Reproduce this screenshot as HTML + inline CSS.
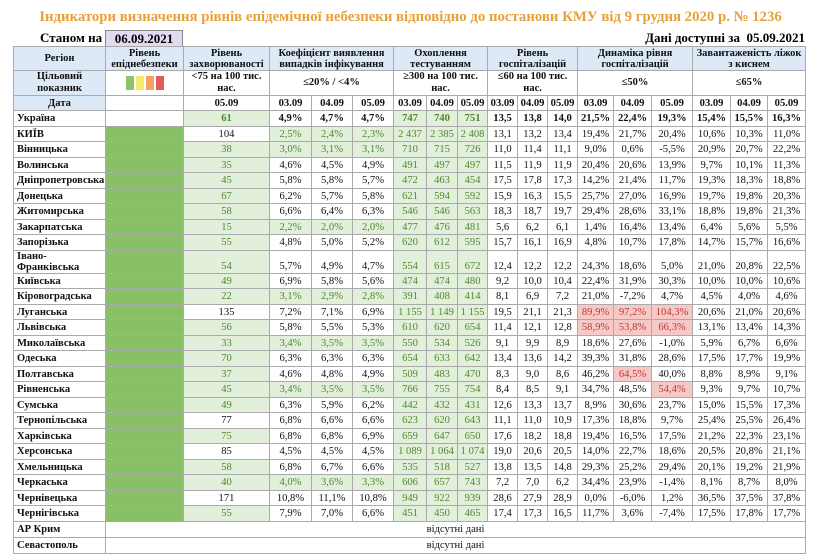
<!DOCTYPE html>
<html><head><meta charset="utf-8">
<style>
body{margin:0;width:821px;height:560px;background:#fff;position:relative;overflow:hidden;font-family:"Liberation Serif",serif;}
.title{position:absolute;left:0;width:821px;top:9px;text-align:center;color:#e8a13a;font-weight:bold;font-size:14.8px;}
.st{position:absolute;left:40px;top:30px;height:16px;font-weight:bold;font-size:13px;line-height:16px;}
.dt{position:absolute;left:105px;top:30px;width:78px;height:16px;background:#e2daf0;border:1px solid #888;border-bottom:none;box-sizing:border-box;text-align:center;font-weight:bold;font-size:13px;line-height:15px;}
.av{position:absolute;right:16px;top:30px;font-weight:bold;font-size:13px;line-height:16px;}
table{position:absolute;left:13px;top:46px;border-collapse:collapse;table-layout:fixed;width:792px;border:1px solid #555;}
td{border:1px solid #aaa;padding:0 1px;font-size:10.6px;text-align:center;white-space:nowrap;overflow:hidden;line-height:13px;color:#111;}
td.n{text-align:left;font-weight:bold;padding-left:3px;font-size:10.5px;}
.h td{background:#dde9f6;font-weight:bold;font-size:10.5px;line-height:11px;}
.t td{font-weight:bold;font-size:10.5px;line-height:12px;}
.t td.b{background:#dde9f6;}
tr.d td{font-weight:bold;}
tr{height:15px;}
tr.x{height:16px;}
.g{background:#e2efda;color:#4f8a30;}
.r{background:#f6c9c9;color:#c0392b;}
.L{background:#88bf67;}
.u td{font-weight:bold;}
.sq{display:inline-block;width:8px;height:14px;margin:0 1px;vertical-align:middle;}
</style></head><body>
<div class="title">Індикатори визначення рівнів епідемічної небезпеки відповідно до постанови КМУ від 9 грудня 2020 р. № 1236</div>
<div class="st">Станом на</div>
<div class="dt">06.09.2021</div>
<div class="av">Дані доступні за &nbsp;05.09.2021</div>
<table>
<colgroup>
<col style="width:92px"><col style="width:78px"><col style="width:86px">
<col style="width:42px"><col style="width:41px"><col style="width:41px">
<col style="width:33px"><col style="width:31px"><col style="width:30px">
<col style="width:30px"><col style="width:30px"><col style="width:30px">
<col style="width:36px"><col style="width:38px"><col style="width:41px">
<col style="width:38px"><col style="width:37px"><col style="width:38px">
</colgroup>
<tr class="h" style="height:24px"><td>Регіон</td><td>Рівень<br>епіднебезпеки</td><td>Рівень<br>захворюваності</td><td colspan="3">Коефіцієнт виявлення<br>випадків інфікування</td><td colspan="3">Охоплення<br>тестуванням</td><td colspan="3">Рівень<br>госпіталізацій</td><td colspan="3">Динаміка рівня<br>госпіталізацій</td><td colspan="3">Завантаженість ліжок<br>з киснем</td></tr>
<tr class="t" style="height:25px"><td class="b">Цільовий<br>показник</td><td><span class="sq" style="background:#8cc46c"></span><span class="sq" style="background:#f5ea6a"></span><span class="sq" style="background:#f2a45a"></span><span class="sq" style="background:#e05b5b"></span></td><td>&lt;75 на 100 тис.<br>нас.</td><td colspan="3">≤20% / &lt;4%</td><td colspan="3">≥300 на 100 тис.<br>нас.</td><td colspan="3">≤60 на 100 тис.<br>нас.</td><td colspan="3">≤50%</td><td colspan="3">≤65%</td></tr>
<tr class="d"><td style="background:#dde9f6">Дата</td><td></td><td>05.09</td><td>03.09</td><td>04.09</td><td>05.09</td><td>03.09</td><td>04.09</td><td>05.09</td><td>03.09</td><td>04.09</td><td>05.09</td><td>03.09</td><td>04.09</td><td>05.09</td><td>03.09</td><td>04.09</td><td>05.09</td></tr>
<tr class="u x"><td class="n">Україна</td><td></td><td class="g">61</td><td>4,9%</td><td>4,7%</td><td>4,7%</td><td class="g">747</td><td class="g">740</td><td class="g">751</td><td>13,5</td><td>13,8</td><td>14,0</td><td>21,5%</td><td>22,4%</td><td>19,3%</td><td>15,4%</td><td>15,5%</td><td>16,3%</td></tr>
<tr><td class="n">КИЇВ</td><td class="L"></td><td>104</td><td class="g">2,5%</td><td class="g">2,4%</td><td class="g">2,3%</td><td class="g">2 437</td><td class="g">2 385</td><td class="g">2 408</td><td>13,1</td><td>13,2</td><td>13,4</td><td>19,4%</td><td>21,7%</td><td>20,4%</td><td>10,6%</td><td>10,3%</td><td>11,0%</td></tr>
<tr class="x"><td class="n">Вінницька</td><td class="L"></td><td class="g">38</td><td class="g">3,0%</td><td class="g">3,1%</td><td class="g">3,1%</td><td class="g">710</td><td class="g">715</td><td class="g">726</td><td>11,0</td><td>11,4</td><td>11,1</td><td>9,0%</td><td>0,6%</td><td>-5,5%</td><td>20,9%</td><td>20,7%</td><td>22,2%</td></tr>
<tr><td class="n">Волинська</td><td class="L"></td><td class="g">35</td><td>4,6%</td><td>4,5%</td><td>4,9%</td><td class="g">491</td><td class="g">497</td><td class="g">497</td><td>11,5</td><td>11,9</td><td>11,9</td><td>20,4%</td><td>20,6%</td><td>13,9%</td><td>9,7%</td><td>10,1%</td><td>11,3%</td></tr>
<tr class="x"><td class="n">Дніпропетровська</td><td class="L"></td><td class="g">45</td><td>5,8%</td><td>5,8%</td><td>5,7%</td><td class="g">472</td><td class="g">463</td><td class="g">454</td><td>17,5</td><td>17,8</td><td>17,3</td><td>14,2%</td><td>21,4%</td><td>11,7%</td><td>19,3%</td><td>18,3%</td><td>18,8%</td></tr>
<tr><td class="n">Донецька</td><td class="L"></td><td class="g">67</td><td>6,2%</td><td>5,7%</td><td>5,8%</td><td class="g">621</td><td class="g">594</td><td class="g">592</td><td>15,9</td><td>16,3</td><td>15,5</td><td>25,7%</td><td>27,0%</td><td>16,9%</td><td>19,7%</td><td>19,8%</td><td>20,3%</td></tr>
<tr class="x"><td class="n">Житомирська</td><td class="L"></td><td class="g">58</td><td>6,6%</td><td>6,4%</td><td>6,3%</td><td class="g">546</td><td class="g">546</td><td class="g">563</td><td>18,3</td><td>18,7</td><td>19,7</td><td>29,4%</td><td>28,6%</td><td>33,1%</td><td>18,8%</td><td>19,8%</td><td>21,3%</td></tr>
<tr><td class="n">Закарпатська</td><td class="L"></td><td class="g">15</td><td class="g">2,2%</td><td class="g">2,0%</td><td class="g">2,0%</td><td class="g">477</td><td class="g">476</td><td class="g">481</td><td>5,6</td><td>6,2</td><td>6,1</td><td>1,4%</td><td>16,4%</td><td>13,4%</td><td>6,4%</td><td>5,6%</td><td>5,5%</td></tr>
<tr class="x"><td class="n">Запорізька</td><td class="L"></td><td class="g">55</td><td>4,8%</td><td>5,0%</td><td>5,2%</td><td class="g">620</td><td class="g">612</td><td class="g">595</td><td>15,7</td><td>16,1</td><td>16,9</td><td>4,8%</td><td>10,7%</td><td>17,8%</td><td>14,7%</td><td>15,7%</td><td>16,6%</td></tr>
<tr style="height:23px"><td class="n" style="line-height:11px;vertical-align:top">Івано-<br>Франківська</td><td class="L"></td><td class="g" style="vertical-align:bottom">54</td><td style="vertical-align:bottom">5,7%</td><td style="vertical-align:bottom">4,9%</td><td style="vertical-align:bottom">4,7%</td><td class="g" style="vertical-align:bottom">554</td><td class="g" style="vertical-align:bottom">615</td><td class="g" style="vertical-align:bottom">672</td><td style="vertical-align:bottom">12,4</td><td style="vertical-align:bottom">12,2</td><td style="vertical-align:bottom">12,2</td><td style="vertical-align:bottom">24,3%</td><td style="vertical-align:bottom">18,6%</td><td style="vertical-align:bottom">5,0%</td><td style="vertical-align:bottom">21,0%</td><td style="vertical-align:bottom">20,8%</td><td style="vertical-align:bottom">22,5%</td></tr>
<tr><td class="n">Київська</td><td class="L"></td><td class="g">49</td><td>6,9%</td><td>5,8%</td><td>5,6%</td><td class="g">474</td><td class="g">474</td><td class="g">480</td><td>9,2</td><td>10,0</td><td>10,4</td><td>22,4%</td><td>31,9%</td><td>30,3%</td><td>10,0%</td><td>10,0%</td><td>10,6%</td></tr>
<tr class="x"><td class="n">Кіровоградська</td><td class="L"></td><td class="g">22</td><td class="g">3,1%</td><td class="g">2,9%</td><td class="g">2,8%</td><td class="g">391</td><td class="g">408</td><td class="g">414</td><td>8,1</td><td>6,9</td><td>7,2</td><td>21,0%</td><td>-7,2%</td><td>4,7%</td><td>4,5%</td><td>4,0%</td><td>4,6%</td></tr>
<tr><td class="n">Луганська</td><td class="L"></td><td>135</td><td>7,2%</td><td>7,1%</td><td>6,9%</td><td class="g">1 155</td><td class="g">1 149</td><td class="g">1 155</td><td>19,5</td><td>21,1</td><td>21,3</td><td class="r">89,9%</td><td class="r">97,2%</td><td class="r">104,3%</td><td>20,6%</td><td>21,0%</td><td>20,6%</td></tr>
<tr class="x"><td class="n">Львівська</td><td class="L"></td><td class="g">56</td><td>5,8%</td><td>5,5%</td><td>5,3%</td><td class="g">610</td><td class="g">620</td><td class="g">654</td><td>11,4</td><td>12,1</td><td>12,8</td><td class="r">58,9%</td><td class="r">53,8%</td><td class="r">66,3%</td><td>13,1%</td><td>13,4%</td><td>14,3%</td></tr>
<tr><td class="n">Миколаївська</td><td class="L"></td><td class="g">33</td><td class="g">3,4%</td><td class="g">3,5%</td><td class="g">3,5%</td><td class="g">550</td><td class="g">534</td><td class="g">526</td><td>9,1</td><td>9,9</td><td>8,9</td><td>18,6%</td><td>27,6%</td><td>-1,0%</td><td>5,9%</td><td>6,7%</td><td>6,6%</td></tr>
<tr class="x"><td class="n">Одеська</td><td class="L"></td><td class="g">70</td><td>6,3%</td><td>6,3%</td><td>6,3%</td><td class="g">654</td><td class="g">633</td><td class="g">642</td><td>13,4</td><td>13,6</td><td>14,2</td><td>39,3%</td><td>31,8%</td><td>28,6%</td><td>17,5%</td><td>17,7%</td><td>19,9%</td></tr>
<tr><td class="n">Полтавська</td><td class="L"></td><td class="g">37</td><td>4,6%</td><td>4,8%</td><td>4,9%</td><td class="g">509</td><td class="g">483</td><td class="g">470</td><td>8,3</td><td>9,0</td><td>8,6</td><td>46,2%</td><td class="r">64,5%</td><td>40,0%</td><td>8,8%</td><td>8,9%</td><td>9,1%</td></tr>
<tr class="x"><td class="n">Рівненська</td><td class="L"></td><td class="g">45</td><td class="g">3,4%</td><td class="g">3,5%</td><td class="g">3,5%</td><td class="g">766</td><td class="g">755</td><td class="g">754</td><td>8,4</td><td>8,5</td><td>9,1</td><td>34,7%</td><td>48,5%</td><td class="r">54,4%</td><td>9,3%</td><td>9,7%</td><td>10,7%</td></tr>
<tr><td class="n">Сумська</td><td class="L"></td><td class="g">49</td><td>6,3%</td><td>5,9%</td><td>6,2%</td><td class="g">442</td><td class="g">432</td><td class="g">431</td><td>12,6</td><td>13,3</td><td>13,7</td><td>8,9%</td><td>30,6%</td><td>23,7%</td><td>15,0%</td><td>15,5%</td><td>17,3%</td></tr>
<tr class="x"><td class="n">Тернопільська</td><td class="L"></td><td>77</td><td>6,8%</td><td>6,6%</td><td>6,6%</td><td class="g">623</td><td class="g">620</td><td class="g">643</td><td>11,1</td><td>11,0</td><td>10,9</td><td>17,3%</td><td>18,8%</td><td>9,7%</td><td>25,4%</td><td>25,5%</td><td>26,4%</td></tr>
<tr><td class="n">Харківська</td><td class="L"></td><td class="g">75</td><td>6,8%</td><td>6,8%</td><td>6,9%</td><td class="g">659</td><td class="g">647</td><td class="g">650</td><td>17,6</td><td>18,2</td><td>18,8</td><td>19,4%</td><td>16,5%</td><td>17,5%</td><td>21,2%</td><td>22,3%</td><td>23,1%</td></tr>
<tr class="x"><td class="n">Херсонська</td><td class="L"></td><td>85</td><td>4,5%</td><td>4,5%</td><td>4,5%</td><td class="g">1 089</td><td class="g">1 064</td><td class="g">1 074</td><td>19,0</td><td>20,6</td><td>20,5</td><td>14,0%</td><td>22,7%</td><td>18,6%</td><td>20,5%</td><td>20,8%</td><td>21,1%</td></tr>
<tr><td class="n">Хмельницька</td><td class="L"></td><td class="g">58</td><td>6,8%</td><td>6,7%</td><td>6,6%</td><td class="g">535</td><td class="g">518</td><td class="g">527</td><td>13,8</td><td>13,5</td><td>14,8</td><td>29,3%</td><td>25,2%</td><td>29,4%</td><td>20,1%</td><td>19,2%</td><td>21,9%</td></tr>
<tr class="x"><td class="n">Черкаська</td><td class="L"></td><td class="g">40</td><td class="g">4,0%</td><td class="g">3,6%</td><td class="g">3,3%</td><td class="g">606</td><td class="g">657</td><td class="g">743</td><td>7,2</td><td>7,0</td><td>6,2</td><td>34,4%</td><td>23,9%</td><td>-1,4%</td><td>8,1%</td><td>8,7%</td><td>8,0%</td></tr>
<tr><td class="n">Чернівецька</td><td class="L"></td><td>171</td><td>10,8%</td><td>11,1%</td><td>10,8%</td><td class="g">949</td><td class="g">922</td><td class="g">939</td><td>28,6</td><td>27,9</td><td>28,9</td><td>0,0%</td><td>-6,0%</td><td>1,2%</td><td>36,5%</td><td>37,5%</td><td>37,8%</td></tr>
<tr class="x"><td class="n">Чернігівська</td><td class="L"></td><td class="g">55</td><td>7,9%</td><td>7,0%</td><td>6,6%</td><td class="g">451</td><td class="g">450</td><td class="g">465</td><td>17,4</td><td>17,3</td><td>16,5</td><td>11,7%</td><td>3,6%</td><td>-7,4%</td><td>17,5%</td><td>17,8%</td><td>17,7%</td></tr>
<tr class="x"><td class="n">АР Крим</td><td colspan="17">відсутні дані</td></tr>
<tr class="x"><td class="n">Севастополь</td><td colspan="17">відсутні дані</td></tr>
</table>
</body></html>
